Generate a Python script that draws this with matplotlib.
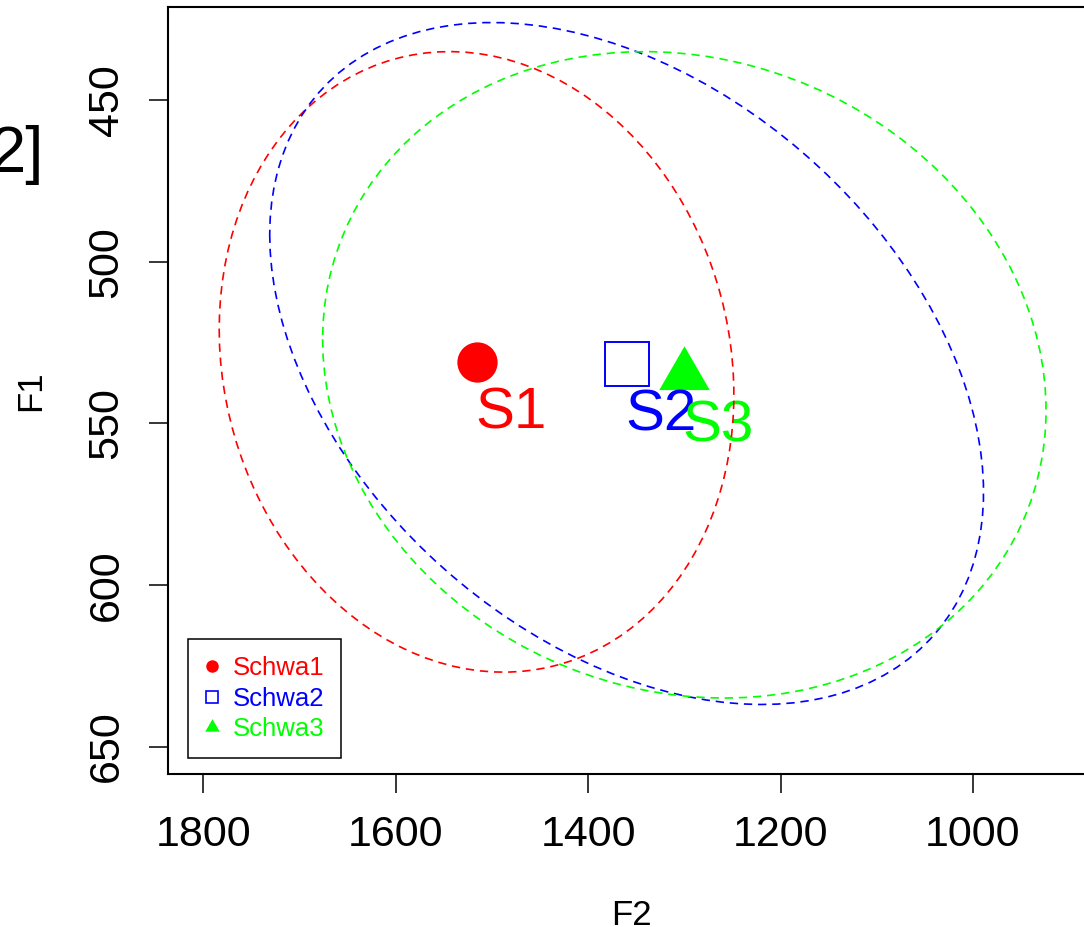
import numpy as np
import matplotlib
matplotlib.use('Agg')
import matplotlib.pyplot as plt
from matplotlib.lines import Line2D

plt.rcParams['font.family'] = ['Liberation Sans', 'DejaVu Sans']

# vowel means / spread (F2, F1 in Hz)
vowels = ['Schwa1', 'Schwa2', 'Schwa3']
short_labels = ['S1', 'S2', 'S3']
f2_mean = [1516, 1360, 1300]
f1_mean = [531, 531.5, 535]
f2_sd = [267.5, 371, 376]
f1_sd = [96, 105.5, 100]
corr = [-0.105, -0.378, -0.11]

colors = ['#FF0000', '#0000FF', '#00FF00']

W, H = 1084, 927
fig = plt.figure(figsize=(W / 100, H / 100), dpi=100)
# axes box in pixels: left 168, right 1094 (outside the picture), top 7, bottom 774
ax = fig.add_axes([168.3 / W, 1 - 774 / H, (1094 - 168.3) / W, (774 - 7) / H])

t = np.linspace(0, 2 * np.pi, 120)
for i in range(3):
    ex = f2_mean[i] + f2_sd[i] * np.cos(t)
    ey = f1_mean[i] + f1_sd[i] * (corr[i] * np.cos(t) + np.sqrt(1 - corr[i] ** 2) * np.sin(t))
    ax.plot(ex, ey, color=colors[i], lw=1.2, linestyle=(0, (5, 3.5)), zorder=4)

# mean points
ax.plot(f2_mean[0], f1_mean[0], 'o', color=colors[0], ms=29, mew=0, zorder=3)
ax.plot(f2_mean[1], f1_mean[1], 's', mfc='none', mec=colors[1], ms=31, mew=1.4, zorder=3)
ax.plot(f2_mean[2], f1_mean[2], marker=(3, 0, 0), color=colors[2], ms=42, mew=0, zorder=3)

for i in range(3):
    ax.annotate(short_labels[i], (f2_mean[i], f1_mean[i]), xytext=(24.5, -48.2),
                textcoords='offset points', ha='center', va='baseline',
                color=colors[i], fontsize=42, zorder=3)

ax.set_xlim(1836.4, 874.2)
ax.set_ylim(658.5, 421.2)
ax.set_xticks([1800, 1600, 1400, 1200, 1000])
ax.set_yticks([450, 500, 550, 600, 650])

for s in ax.spines.values():
    s.set_linewidth(1.5)
ax.tick_params(axis='both', length=14, width=1.1, labelsize=31)
ax.tick_params(axis='x', pad=15.5)
ax.tick_params(axis='y', pad=16, labelrotation=90)
for lab in ax.get_yticklabels():
    lab.set_va('center')

ax.set_xlabel('F2', fontsize=25)
ax.set_ylabel('F1', fontsize=25)
ax.xaxis.set_label_coords(0.5, (774 - 899) / 767)
ax.yaxis.set_label_coords((47 - 168.3) / 925.7, 0.5)

handles = [
    Line2D([], [], ls='none', marker='o', color=colors[0], ms=9, mew=0),
    Line2D([], [], ls='none', marker='s', mfc='none', mec=colors[1], ms=8, mew=1.2),
    Line2D([], [], ls='none', marker=(3, 0, 0), color=colors[2], ms=12, mew=0),
]
leg = ax.legend(handles, vowels, loc='lower left',
                bbox_to_anchor=((188 - 168.3) / 925.7, (774 - 758) / 767),
                borderaxespad=0, fontsize=18.5, handlelength=0.6, handletextpad=0.5,
                labelspacing=0.26, borderpad=0.65, fancybox=False, framealpha=1,
                edgecolor='black')
leg.get_frame().set_linewidth(1.1)
for txt, c in zip(leg.get_texts(), colors):
    txt.set_color(c)

# cut-off text at the left edge of the picture
fig.text(44 / W, 1 - 172 / H, '2]', ha='right', va='baseline', fontsize=47)

fig.savefig('out.png', dpi=100)
